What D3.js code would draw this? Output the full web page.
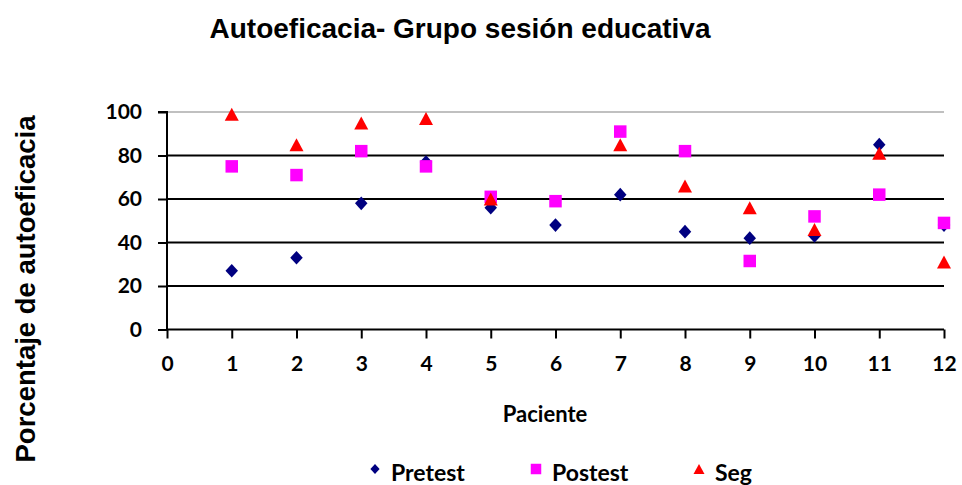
<!DOCTYPE html>
<html>
<head>
<meta charset="utf-8">
<script src="https://cdn.jsdelivr.net/npm/d3@7"></script>
<style>
  html, body { margin: 0; padding: 0; background: #ffffff; }
  svg { display: block; }
</style>
</head>
<body>
<svg id="chart" width="962" height="485"></svg>
<script>
// ---- Data ----
const pacientes = [1, 2, 3, 4, 5, 6, 7, 8, 9, 10, 11, 12];
const pretest = [27, 33, 58, 77, 56, 48, 62, 45, 42, 43, 85, 48];
const postest = [75, 71, 82, 75, 61, 59, 91, 82, 31.5, 52, 62, 49];
const seg     = [99, 85, 95, 97, 60, null, 85, 66, 56, 46, 81, 31];
const xTicks = [0, 1, 2, 3, 4, 5, 6, 7, 8, 9, 10, 11, 12];
const yTicks = [0, 20, 40, 60, 80, 100];
const seriesNames = ["Pretest", "Postest", "Seg"];
const seriesColors = ["#000080", "#FF00FF", "#FF0000"];

const svg = d3.select("#chart");

const x = d3.scaleLinear().domain([0, 12]).range([167, 944]);
const y = d3.scaleLinear().domain([0, 100]).range([329.5, 112]);

const tickFont = "Lato, 'Open Sans', sans-serif";
const titleFont = "'Liberation Sans', Arial, sans-serif";

// Title
svg.append("text")
  .attr("x", 460).attr("y", 38)
  .attr("text-anchor", "middle")
  .attr("font-family", titleFont)
  .attr("font-weight", "bold")
  .attr("font-size", 28)
  .attr("fill", "#000")
  .text("Autoeficacia- Grupo sesión educativa");

// Y axis title
svg.append("text")
  .attr("transform", "translate(35,289) rotate(-90)")
  .attr("text-anchor", "middle")
  .attr("font-family", titleFont)
  .attr("font-weight", "bold")
  .attr("font-size", 27.5)
  .attr("fill", "#000")
  .text("Porcentaje de autoeficacia");

// Gridlines
svg.append("g")
  .selectAll("line")
  .data(yTicks.filter(d => d > 0))
  .join("line")
  .attr("x1", x(0)).attr("x2", x(12))
  .attr("y1", d => y(d)).attr("y2", d => y(d))
  .attr("stroke", d => d === 100 ? "#c0c0c0" : "#000")
  .attr("stroke-width", 2);

// Y axis
const yAxis = d3.axisLeft(y).tickValues(yTicks).tickSize(9).tickPadding(16).tickFormat(d3.format("d"));
const gy = svg.append("g").attr("transform", `translate(${x(0)},0)`).call(yAxis);
gy.select(".domain").attr("stroke", "#000").attr("stroke-width", 2).attr("d", `M-9,${y(100)}H0V${y(0)}`);
gy.selectAll(".tick line").attr("stroke", "#000").attr("stroke-width", 2);
gy.selectAll(".tick text")
  .attr("font-family", tickFont).attr("font-weight", "bold").attr("font-size", 21).attr("fill", "#000");

// X axis
const xAxis = d3.axisBottom(x).tickValues(xTicks).tickSize(9).tickPadding(18).tickFormat(d3.format("d"));
const gx = svg.append("g").attr("transform", `translate(0,${y(0)})`).call(xAxis);
gx.select(".domain").attr("stroke", "#000").attr("stroke-width", 2).attr("d", `M${x(0)},0H${x(12)}`);
gx.selectAll(".tick line").attr("stroke", "#000").attr("stroke-width", 2);
gx.selectAll(".tick text")
  .attr("font-family", tickFont).attr("font-weight", "bold").attr("font-size", 21).attr("fill", "#000");

// X axis title
svg.append("text")
  .attr("x", 545).attr("y", 421.5)
  .attr("text-anchor", "middle")
  .attr("font-family", tickFont)
  .attr("font-weight", "bold")
  .attr("font-size", 22)
  .attr("fill", "#000")
  .text("Paciente");

// Marker shapes
function diamondPath(r) { return `M0,${-r}L${r*0.92},0L0,${r}L${-r*0.92},0Z`; }
function squarePath(s) { const h = s / 2; return `M${-h},${-h}H${h}V${h}H${-h}Z`; }
function trianglePath(w, h) { return `M0,${-h/2}L${w/2},${h/2}L${-w/2},${h/2}Z`; }
const markerPaths = [diamondPath(6.8), squarePath(12.5), trianglePath(14, 13)];
const legendPaths = [diamondPath(5), squarePath(10.5), trianglePath(11, 10)];

const allSeries = [pretest, postest, seg];
allSeries.forEach((vals, si) => {
  const pts = pacientes.map((p, i) => ({ p, v: vals[i] })).filter(d => d.v !== null);
  svg.append("g")
    .selectAll("path")
    .data(pts)
    .join("path")
    .attr("transform", d => `translate(${x(d.p)},${y(d.v)})`)
    .attr("d", markerPaths[si])
    .attr("fill", seriesColors[si]);
});

// Legend
const legendX = [375, 536, 699];
const lg = svg.append("g");
seriesNames.forEach((name, i) => {
  lg.append("path")
    .attr("transform", `translate(${legendX[i]},469)`)
    .attr("d", legendPaths[i])
    .attr("fill", seriesColors[i]);
  lg.append("text")
    .attr("x", legendX[i] + 16).attr("y", 481)
    .attr("font-family", tickFont)
    .attr("font-weight", "bold")
    .attr("font-size", 23)
    .attr("fill", "#000")
    .text(name);
});
</script>
</body>
</html>
